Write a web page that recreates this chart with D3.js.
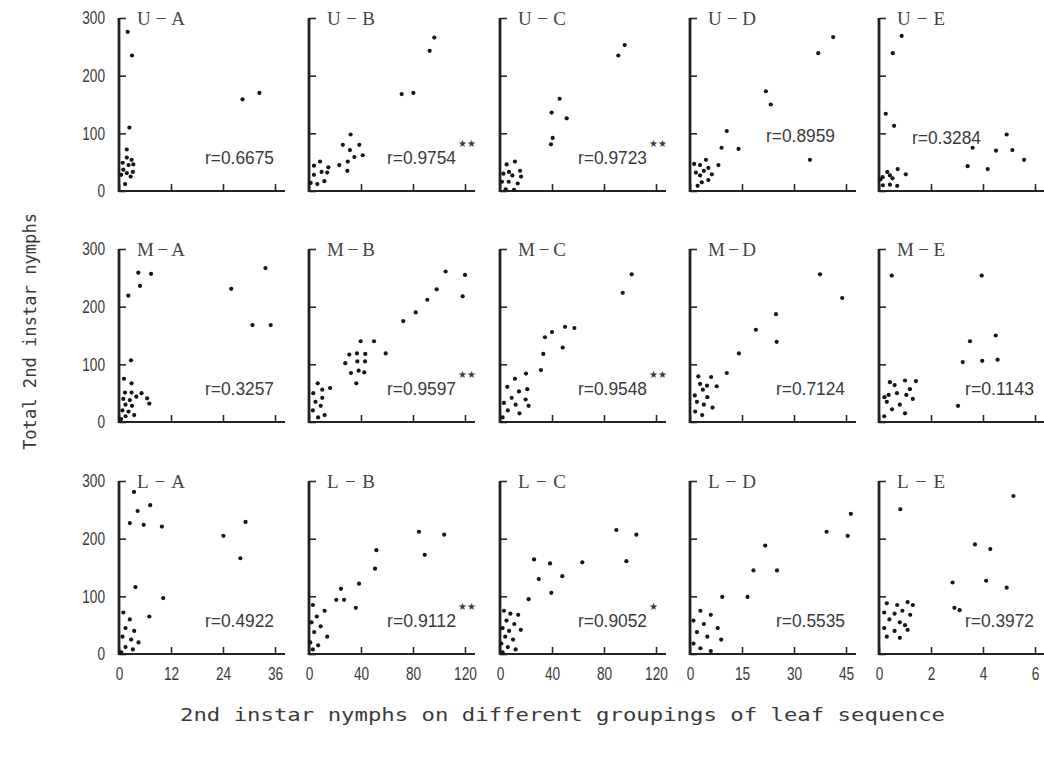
<!DOCTYPE html>
<html>
<head>
<meta charset="utf-8">
<script src="https://cdn.jsdelivr.net/npm/d3@7"></script>
<style>
  body { margin: 0; background: #fff; }
  .tick text { font-family: "Liberation Sans", Arial, sans-serif; font-size: 18px; fill: #3a3a3a; }
  .tick line { stroke: #2a2a2a; stroke-width: 1.6px; }
</style>
</head>
<body>
<div id="chart"></div>
<script>
// rows: leaf position (U/M/L), columns: leaf grouping (A..E)
var rowNames = ["U", "M", "L"];
var colNames = ["A", "B", "C", "D", "E"];
var xMax = [36, 120, 120, 45, 6];
var xTicks = [[0, 12, 24, 36], [0, 40, 80, 120], [0, 40, 80, 120], [0, 15, 30, 45], [0, 2, 4, 6]];
var yTicks = [0, 100, 200, 300];
var rValues = [
  ["0.6675", "0.9754", "0.9723", "0.8959", "0.3284"],
  ["0.3257", "0.9597", "0.9548", "0.7124", "0.1143"],
  ["0.4922", "0.9112", "0.9052", "0.5535", "0.3972"]
];
var signif = [
  ["", "★★", "★★", "", ""],
  ["", "★★", "★★", "", ""],
  ["", "★★", "★", "", ""]
];

// [x, y] points
var ptsUA = [[2.0, 276], [3.0, 235], [28.5, 159], [32.4, 170], [2.4, 110], [1.8, 72], [1.8, 58], [2.9, 54],
  [0.85, 49], [2.2, 45], [3.3, 46], [1.0, 37], [1.8, 31], [3.2, 33], [0.5, 28], [1.4, 12], [2.7, 25]];
var ptsUB = [[96.4, 266], [92.8, 243], [71.3, 168], [80.3, 170], [32, 98], [26, 80], [38.7, 80], [31.5, 71],
  [34.9, 59], [41.3, 62], [29.8, 51], [23.3, 45], [29.5, 35], [8.5, 51], [3.8, 44], [14.9, 41], [9.7, 33],
  [14, 32], [3.8, 28], [11.8, 17], [6.4, 12], [1.3, 14]];
var ptsUC = [[95.9, 253], [91, 235], [45.9, 160], [39.7, 136], [51.3, 126], [40.5, 92], [39.2, 81], [11.5, 51],
  [5.1, 46], [6.9, 33], [15.4, 35], [9.5, 27], [16.2, 25], [2.6, 30], [6.7, 16], [13.6, 13], [4.4, 3],
  [10.8, 2], [1.5, 16]];
var ptsUD = [[41.3, 267], [37.0, 239], [21.9, 173], [23.3, 150], [34.6, 54], [10.6, 104], [9.1, 75], [14.0, 73],
  [8.2, 45], [4.6, 54], [1.2, 47], [2.9, 45], [5.3, 40], [4.0, 35], [1.7, 32], [6.3, 29], [2.9, 27],
  [5.3, 19], [3.4, 15], [2.2, 9]];
var ptsUE = [[0.87, 269], [0.53, 239], [0.26, 134], [0.58, 113], [4.91, 98], [3.6, 75], [5.13, 71], [4.5, 70],
  [5.58, 54], [3.41, 43], [4.18, 38], [0.72, 38], [1.03, 29], [0.32, 33], [0.42, 27], [0.14, 24],
  [0.52, 22], [0.05, 20], [0.70, 9], [0.15, 10], [0.42, 11]];

var ptsMA = [[4.46, 259], [7.4, 257], [4.85, 236], [2.15, 219], [25.9, 231], [33.8, 267], [30.8, 168], [35.0, 168],
  [2.77, 107], [1.15, 75], [2.9, 67], [1.38, 51], [2.9, 51], [5.2, 50], [1.0, 40], [2.5, 38], [4.0, 44],
  [6.5, 41], [1.5, 30], [3.0, 28], [7.0, 32], [0.8, 20], [2.2, 18], [1.5, 10], [3.5, 12], [0.5, 5]];
var ptsMB = [[105.1, 261], [120, 255], [98.2, 230], [118.2, 218], [91.0, 212], [82.1, 190], [72.5, 175],
  [39.7, 140], [50, 140], [59, 119], [31, 117], [36.9, 119], [43.3, 118], [27.9, 102], [37.2, 105],
  [43.1, 105], [32.3, 85], [38.2, 89], [42.5, 86], [36.4, 67], [6.7, 67], [10.2, 56], [16.2, 59],
  [3.3, 50], [10.2, 42], [5, 35], [9, 28], [3, 20], [12, 12], [7, 8]];
var ptsMC = [[101.3, 256], [94.4, 224], [50, 165], [57.2, 163], [40, 156], [34.6, 147], [48.2, 129], [33.3, 118],
  [31.5, 90], [20, 84], [11.5, 75], [5.6, 61], [14.6, 53], [21, 57], [9, 42], [19.7, 39], [3, 33],
  [12, 30], [22, 28], [6, 20], [15, 15], [2, 8]];
var ptsMD = [[37.5, 256], [43.9, 215], [24.8, 187], [19, 160], [25, 139], [14.1, 119], [10.6, 85], [2.4, 79],
  [6.1, 78], [2.9, 66], [4.9, 63], [7.7, 62], [3.7, 56], [1.4, 46], [5.0, 43], [2.0, 35], [4.0, 30],
  [6.5, 25], [1.5, 18], [3.5, 12]];
var ptsME = [[0.49, 254], [3.95, 254], [3.5, 140], [4.49, 150], [3.22, 104], [3.97, 106], [4.56, 108], [3.04, 28],
  [0.42, 69], [0.6, 64], [1.0, 72], [1.42, 71], [1.19, 57], [0.37, 47], [0.69, 50], [1.05, 47], [0.21, 43],
  [0.3, 35], [0.8, 30], [1.3, 40], [0.5, 22], [1.0, 15], [0.2, 10]];

var ptsLA = [[3.46, 281], [4.3, 248], [7.2, 258], [2.5, 227], [5.7, 224], [9.9, 221], [24.1, 205], [29.2, 229],
  [28, 166], [3.8, 116], [10.2, 97], [1.0, 72], [2.5, 60], [7.0, 65], [1.5, 45], [3.5, 40], [0.8, 30],
  [2.8, 25], [4.5, 20], [1.5, 12], [3.2, 8], [0.5, 3]];
var ptsLB = [[84.6, 212], [104, 207], [89, 172], [51.8, 180], [50.8, 148], [38.5, 122], [24.6, 113], [21, 94],
  [27, 94], [36, 80], [3, 85], [12, 75], [6, 65], [2, 55], [9, 48], [4, 38], [14, 30], [1, 20], [7, 15], [3, 8]];
var ptsLC = [[89.5, 215], [104.9, 207], [97.2, 161], [63.3, 159], [26.2, 164], [38.5, 157], [29.8, 130],
  [47.9, 135], [39.5, 106], [22, 95], [3, 75], [8, 70], [14, 68], [5, 58], [11, 52], [2, 45], [7, 40],
  [16, 42], [4, 30], [10, 25], [1, 18], [6, 12], [12, 8], [2, 3]];
var ptsLD = [[46.4, 243], [39.4, 212], [45.5, 205], [21.7, 188], [18.3, 145], [25.1, 145], [9.3, 99], [16.6, 99],
  [3, 75], [6, 68], [1, 58], [4, 52], [8, 45], [2, 38], [5, 30], [9, 25], [1, 18], [3, 10], [6, 5]];
var ptsLE = [[0.82, 251], [5.17, 274], [3.69, 190], [4.28, 182], [2.83, 124], [4.12, 127], [4.91, 115], [2.9, 80],
  [3.1, 76], [0.3, 88], [0.7, 85], [1.1, 90], [1.3, 85], [0.2, 72], [0.6, 70], [0.9, 75], [1.2, 68],
  [0.4, 60], [0.8, 55], [1.0, 50], [0.2, 45], [0.6, 40], [1.1, 42], [0.3, 30], [0.8, 28]];

var panelPts = [
  [ptsUA, ptsUB, ptsUC, ptsUD, ptsUE],
  [ptsMA, ptsMB, ptsMC, ptsMD, ptsME],
  [ptsLA, ptsLB, ptsLC, ptsLD, ptsLE]
];

// layout
var colX = [119, 309, 500, 690, 879];
var rowTop = [18, 249, 481];
var pw = 156, ph = 173;
var ink = "#3a3a3a";

var svg = d3.select("#chart").append("svg")
  .attr("width", 1044)
  .attr("height", 757);

function squeeze(sel, perChar) {
  sel.each(function () {
    var t = d3.select(this).text();
    if (t.length) d3.select(this).attr("textLength", perChar * t.length).attr("lengthAdjust", "spacingAndGlyphs");
  });
}

rowNames.forEach(function (rName, ri) {
  colNames.forEach(function (cName, ci) {
    var g = svg.append("g")
      .attr("transform", "translate(" + colX[ci] + "," + rowTop[ri] + ")");

    var x = d3.scaleLinear().domain([0, xMax[ci]]).range([0, pw]);
    var y = d3.scaleLinear().domain([0, 300]).range([ph, 0]);

    var xAxis = d3.axisBottom(x).tickValues(xTicks[ci]).tickSizeInner(-7).tickSizeOuter(0).tickPadding(13)
      .tickFormat(ri < 2 ? "" : d3.format("d"));
    var yAxis = d3.axisLeft(y).tickValues(yTicks).tickSizeInner(-7).tickSizeOuter(0).tickPadding(14)
      .tickFormat(ci > 0 ? "" : d3.format("d"));

    var gx = g.append("g").attr("transform", "translate(0," + ph + ")").call(xAxis);
    var gy = g.append("g").call(yAxis);
    gx.select(".domain").remove();
    gy.select(".domain").remove();
    gx.selectAll(".tick text").call(squeeze, 7.6);
    gy.selectAll(".tick text").call(squeeze, 7.6);

    // axis lines, x axis runs a little past its last tick
    g.append("line")
      .attr("x1", -1).attr("x2", pw + 10)
      .attr("y1", ph).attr("y2", ph)
      .attr("stroke", "#222").attr("stroke-width", 2.2);
    g.append("line")
      .attr("x1", 0).attr("x2", 0)
      .attr("y1", y(0) + 1).attr("y2", y(300))
      .attr("stroke", "#222").attr("stroke-width", 2.8);

    // panel title
    g.append("text")
      .attr("x", 18).attr("y", 7)
      .attr("textLength", 48).attr("lengthAdjust", "spacing")
      .style("font-family", "'Liberation Serif', 'DejaVu Serif', serif")
      .style("font-size", "19px")
      .style("fill", "#444")
      .text(rName + "\u2212" + cName);

    // dots
    g.selectAll("circle.pt")
      .data(panelPts[ri][ci])
      .enter().append("circle")
      .attr("class", "pt")
      .attr("cx", function (d) { return x(d[0]); })
      .attr("cy", function (d) { return y(d[1]); })
      .attr("r", 2.1)
      .attr("fill", "#151515");

    // correlation label
    var star = signif[ri][ci];
    var rx = 86 - (star ? 8 : 0), ry = ph - 27;
    if (ri === 0 && ci === 3) { rx = 76; ry = ph - 49; }
    if (ri === 0 && ci === 4) { rx = 33; ry = ph - 47; }
    g.append("text")
      .attr("x", rx).attr("y", ry)
      .attr("textLength", 69).attr("lengthAdjust", "spacingAndGlyphs")
      .style("font-family", "'Liberation Sans', Arial, sans-serif")
      .style("font-size", "18px")
      .style("fill", ink)
      .text("r=" + rValues[ri][ci]);
    if (star) {
      g.append("text")
        .attr("x", rx + 71).attr("y", ry - 17)
        .style("font-family", "'DejaVu Sans', sans-serif")
        .style("font-size", "10px")
        .style("fill", ink)
        .text(star);
    }
  });
});

// axis titles
svg.append("text")
  .attr("x", 180).attr("y", 721)
  .attr("textLength", 765).attr("lengthAdjust", "spacingAndGlyphs")
  .style("font-family", "'DejaVu Sans Mono', 'Liberation Mono', monospace")
  .style("font-size", "18px")
  .style("fill", ink)
  .text("2nd instar nymphs on different groupings of leaf sequence");

svg.append("text")
  .attr("transform", "translate(36,450) rotate(-90)")
  .attr("textLength", 237).attr("lengthAdjust", "spacingAndGlyphs")
  .style("font-family", "'DejaVu Sans Mono', 'Liberation Mono', monospace")
  .style("font-size", "17px")
  .style("fill", ink)
  .text("Total 2nd instar nymphs");
</script>
</body>
</html>
